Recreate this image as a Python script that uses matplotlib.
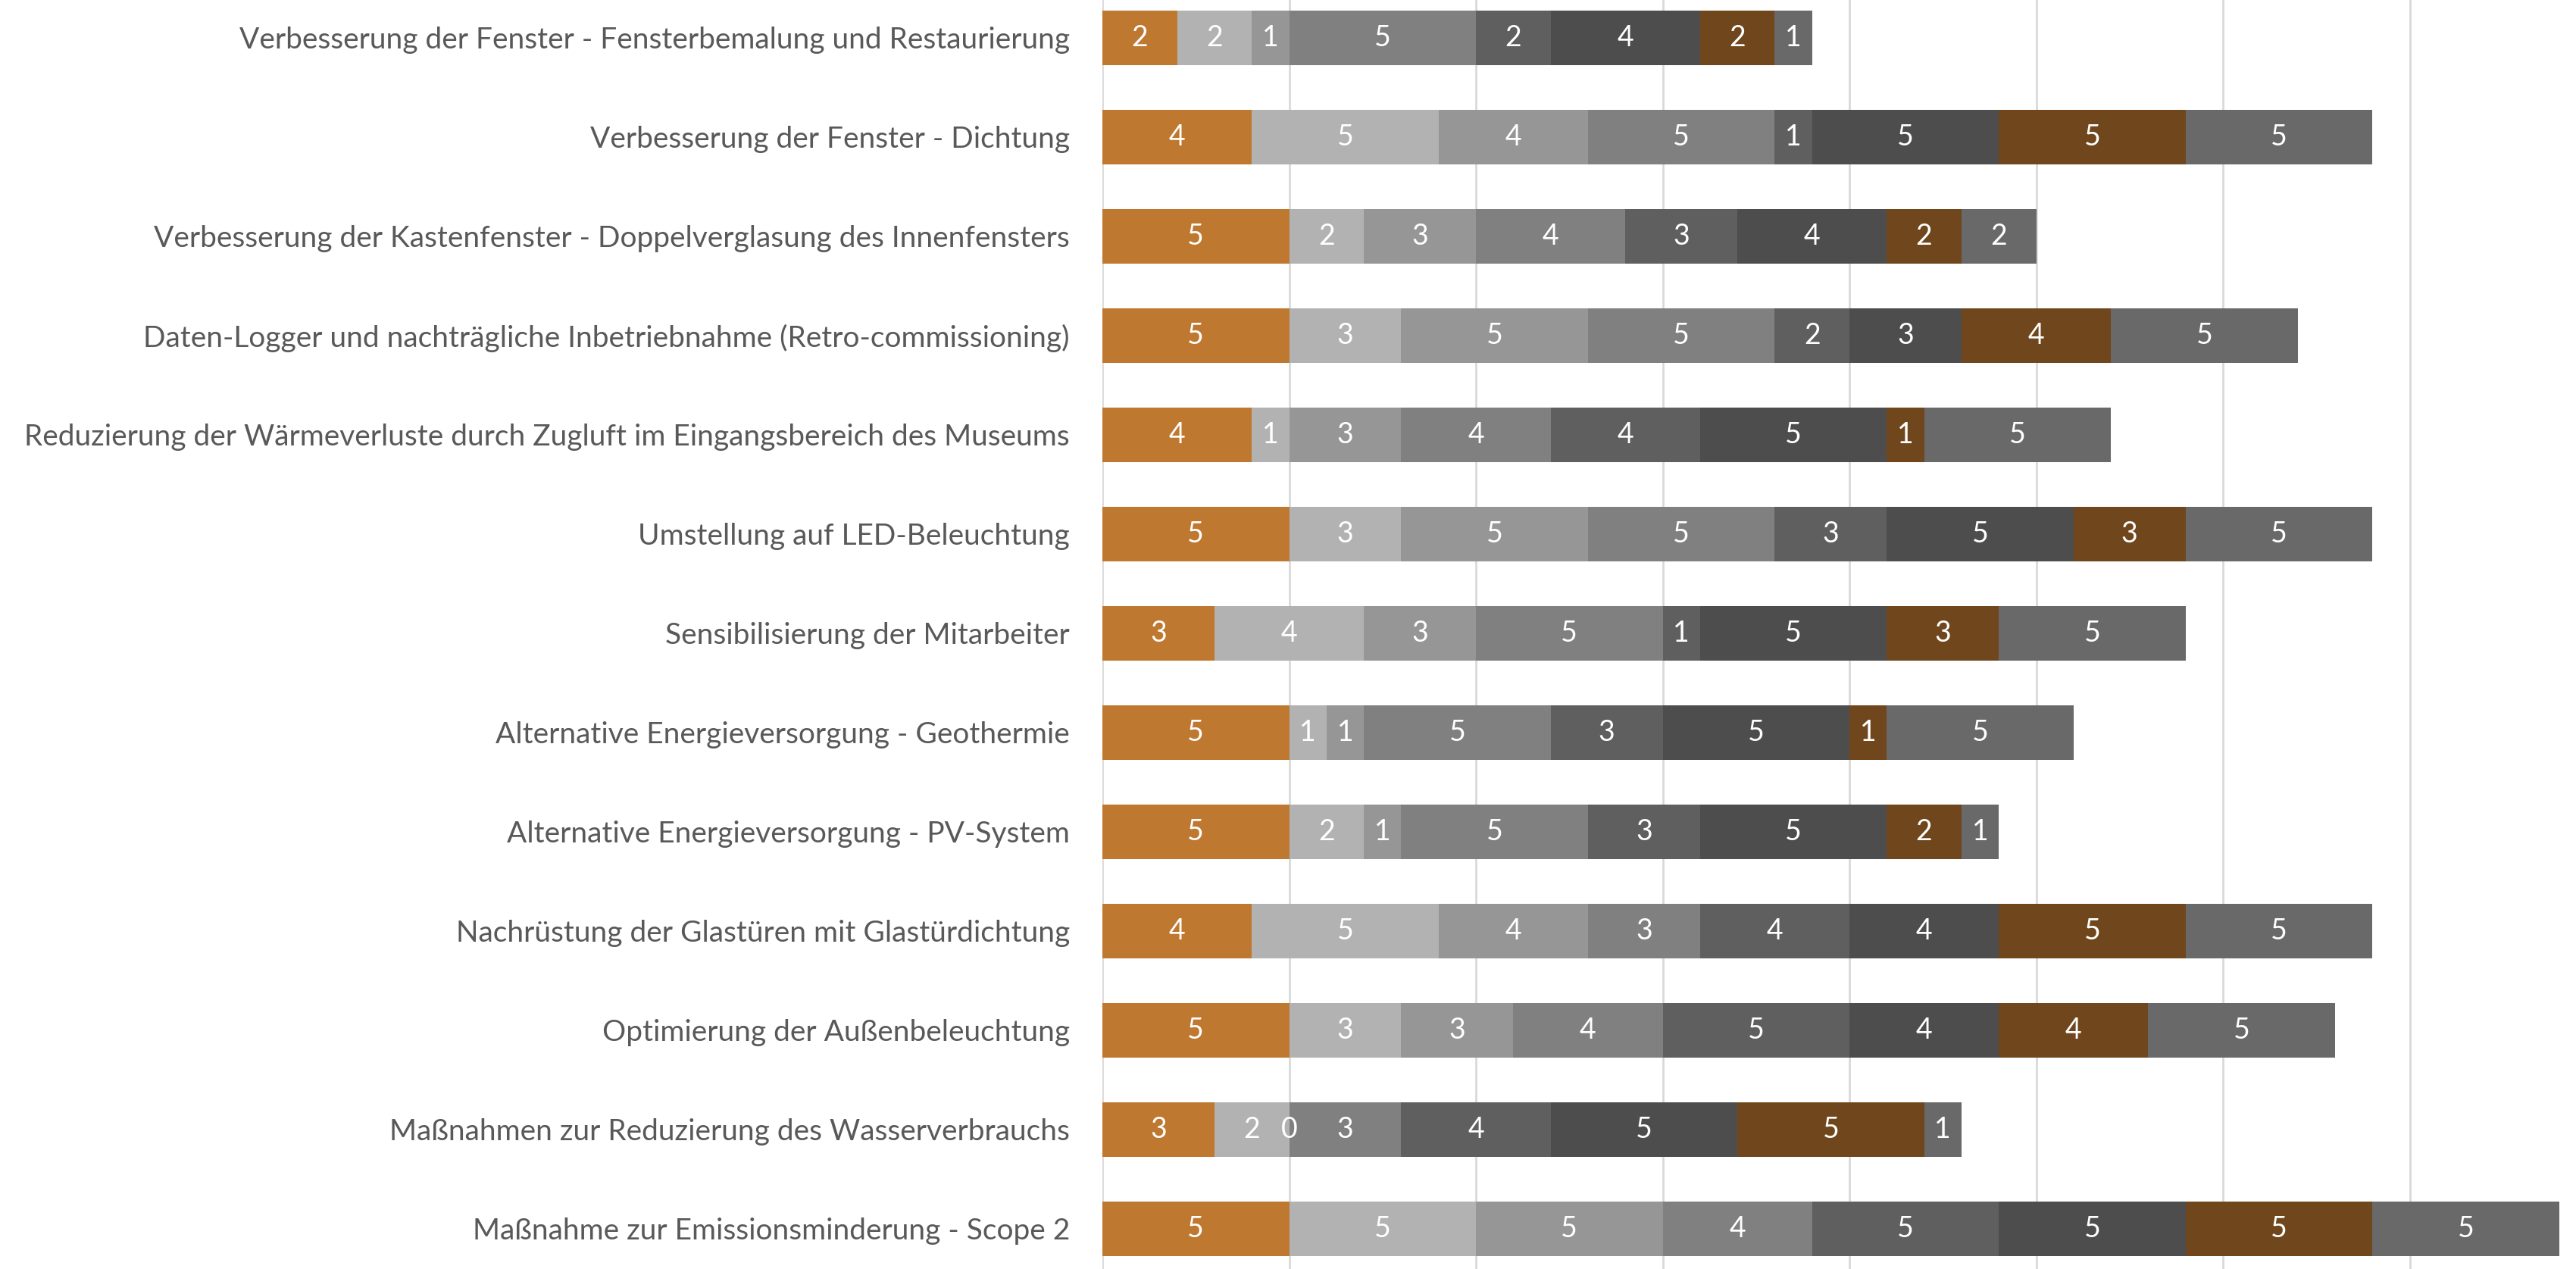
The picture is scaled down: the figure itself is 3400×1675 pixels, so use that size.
import matplotlib
matplotlib.use("Agg")
import matplotlib.pyplot as plt
import numpy as np

categories = [
    "Verbesserung der Fenster - Fensterbemalung und Restaurierung",
    "Verbesserung der Fenster - Dichtung",
    "Verbesserung der Kastenfenster - Doppelverglasung des Innenfensters",
    "Daten-Logger und nachträgliche Inbetriebnahme (Retro-commissioning)",
    "Reduzierung der Wärmeverluste durch Zugluft im Eingangsbereich des Museums",
    "Umstellung auf LED-Beleuchtung",
    "Sensibilisierung der Mitarbeiter",
    "Alternative Energieversorgung - Geothermie",
    "Alternative Energieversorgung - PV-System",
    "Nachrüstung der Glastüren mit Glastürdichtung",
    "Optimierung der Außenbeleuchtung",
    "Maßnahmen zur Reduzierung des Wasserverbrauchs",
    "Maßnahme zur Emissionsminderung - Scope 2",
]

s1 = [2, 4, 5, 5, 4, 5, 3, 5, 5, 4, 5, 3, 5]
s2 = [2, 5, 2, 3, 1, 3, 4, 1, 2, 5, 3, 2, 5]
s3 = [1, 4, 3, 5, 3, 5, 3, 1, 1, 4, 3, 0, 5]
s4 = [5, 5, 4, 5, 4, 5, 5, 5, 5, 3, 4, 3, 4]
s5 = [2, 1, 3, 2, 4, 3, 1, 3, 3, 4, 5, 4, 5]
s6 = [4, 5, 4, 3, 5, 5, 5, 5, 5, 4, 4, 5, 5]
s7 = [2, 5, 2, 4, 1, 3, 3, 1, 2, 5, 4, 5, 5]
s8 = [1, 5, 2, 5, 5, 5, 5, 5, 1, 5, 5, 1, 5]

series = [s1, s2, s3, s4, s5, s6, s7, s8]
colors = ["#BF782F", "#B2B2B2", "#969696", "#808080",
          "#5F5F5F", "#4D4D4D", "#70471C", "#696969"]

plt.rcParams['font.family'] = ['Lato', 'DejaVu Sans']

W, H = 3400, 1675
fig = plt.figure(figsize=(W / 100, H / 100), dpi=100)
fig.patch.set_facecolor("white")

unit = 49.3
x0 = 1455
xmax = (W - x0) / unit
row = 131.0
first_center = 50.0
top = first_center - row / 2
n = len(categories)
ax_h = n * row
ax = fig.add_axes([x0 / W, 1 - (top + ax_h) / H, (W - x0) / W, ax_h / H])

y = np.arange(n)
left = np.zeros(n)
for vals, c in zip(series, colors):
    vals = np.array(vals, dtype=float)
    bars = ax.barh(y, vals, left=left, height=0.55, color=c, zorder=3)
    ax.bar_label(bars, labels=[str(int(v)) for v in vals], label_type="center",
                 color="white", fontsize=27, zorder=4)
    left += vals

ax.set_xlim(0, xmax)
ax.set_ylim(n - 0.5, -0.5)
ax.set_xticks(np.arange(0, 40, 5))
ax.xaxis.grid(True, color="#D9D9D9", linewidth=2, zorder=0)
ax.tick_params(axis="x", length=0, labelbottom=False)
ax.tick_params(axis="y", length=0, pad=31)
ax.set_yticks(y)
ax.set_yticklabels(categories, fontsize=28, color="#595959")
for s in ax.spines.values():
    s.set_visible(False)

fig.savefig("out.png", dpi=100, facecolor="white")
